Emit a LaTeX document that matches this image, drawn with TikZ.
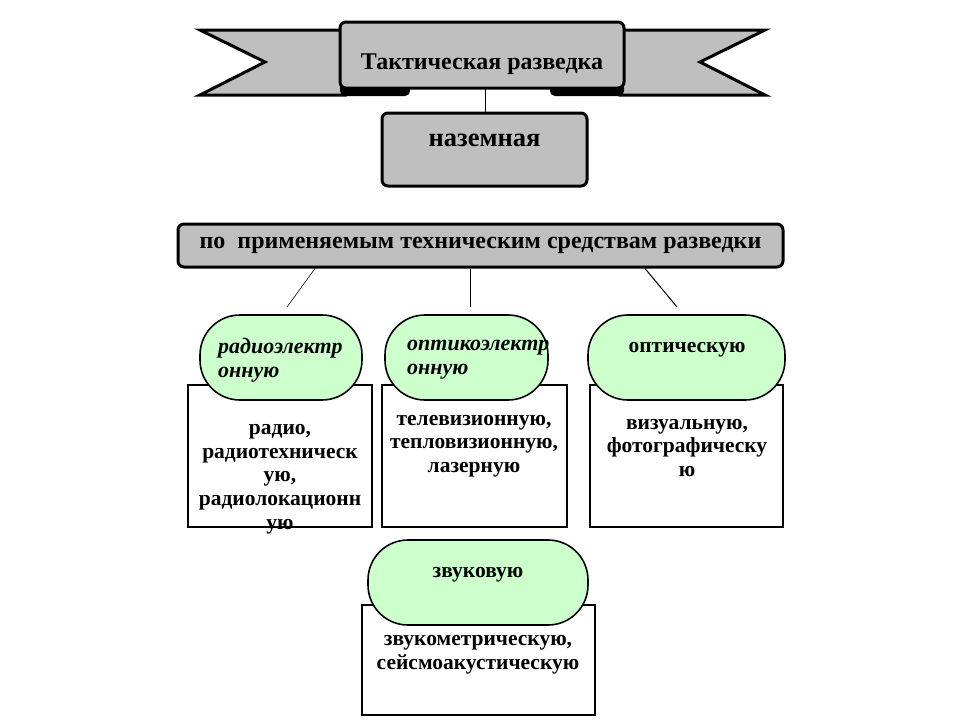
\documentclass[tikz,border=0pt]{standalone}
\usepackage{fontspec}
\setmainfont{Liberation Serif}
\begin{document}
\begin{tikzpicture}[x=1pt,y=-1pt,
  graybox/.style={draw=black, line width=3pt, fill=gray!50, rounded corners=6pt},
  pill/.style={draw=black, line width=1.6pt, fill=green!20, rounded corners=40pt},
  listbox/.style={draw=black, line width=1.4pt, fill=white},
  tx/.style={font=\bfseries\fontsize{21.5}{23.7}\selectfont, align=center, inner sep=0pt},
  itx/.style={font=\bfseries\itshape\fontsize{22}{24}\selectfont, align=left, inner sep=0pt},
  conn/.style={draw=black, line width=1pt}]
\useasboundingbox (0,0) rectangle (960,720);
% ribbon
\draw[line width=3pt, fill=gray!50, line join=miter] (200,30) -- (345,30) -- (345,95) -- (200,95) -- (265,62) -- cycle;
\draw[line width=3pt, fill=gray!50, line join=miter] (620,30) -- (765,30) -- (700,62) -- (765,95) -- (620,95) -- cycle;
\fill[black, rounded corners=5pt] (340,83) rectangle (410,96);
\fill[black, rounded corners=5pt] (550,83) rectangle (624,96);
\node[graybox, minimum width=284pt, minimum height=66pt] (title) at (482,55) {};
\node[font=\bfseries\fontsize{24}{24}\selectfont, inner sep=0pt] (titletext) at (482,64) {Тактическая разведка};
% nazemnaya
\node[graybox, minimum width=205pt, minimum height=73pt] (nazem) at (484.5,149.5) {};
\node[font=\bfseries\fontsize{26.5}{24}\selectfont, inner sep=0pt] (nazemtext) at (484.5,140) {наземная};
\draw[conn] (485,88) -- (nazem.north -| 485,0);
% bar
\node[graybox, minimum width=605pt, minimum height=43pt, font=\bfseries\fontsize{24}{24}\selectfont, inner sep=0pt] (bar) at (480.5,245.5) {по\ \ применяемым техническим средствам разведки};
\coordinate (e1) at (287,307);
\coordinate (e2) at (470,307);
\coordinate (e3) at (677,307);
\draw[line width=0.6pt] (bar.south -| 315,0) -- (e1);
\draw[conn] (bar.south -| 470,0) -- (e2);
\draw[conn] (bar.south -| 645,0) -- (e3);
% boxes
\node[listbox, minimum width=184pt, minimum height=142pt] (b1) at (280,456) {};
\node[listbox, minimum width=185pt, minimum height=142pt] (b2) at (474.5,456) {};
\node[listbox, minimum width=193pt, minimum height=142pt] (b3) at (686.5,456) {};
\node[listbox, minimum width=233pt, minimum height=110pt] (b4) at (478.5,660) {};
% pills
\node[pill, minimum width=162pt, minimum height=85pt] (p1) at (281,357.5) {};
\node[pill, minimum width=163pt, minimum height=85pt] (p2) at (466.5,357.5) {};
\node[pill, minimum width=197pt, minimum height=85pt] (p3) at (686.5,357.5) {};
\node[pill, minimum width=220pt, minimum height=85pt] (p4) at (478,582.5) {};
% pill texts
\node[itx, anchor=west] (p1t) at (218,360) {радиоэлектр\\онную};
\node[itx, anchor=west] (p2t) at (407,360) {оптикоэлектр\\онную};
\node[tx] (p3t) at (687,350) {оптическую};
\node[tx] (p4t) at (478,575) {звуковую};
% box texts
\node[tx] (b1t) at (280,479) {радио,\\радиотехническ\\ую,\\радиолокационн\\ую};
\node[tx] (b2t) at (474,446) {телевизионную,\\тепловизионную,\\лазерную};
\node[tx] (b3t) at (687,448) {визуальную,\\фотографическу\\ю};
\node[tx] (b4t) at (478,655) {звукометрическую,\\сейсмоакустическую};
\end{tikzpicture}
\end{document}
